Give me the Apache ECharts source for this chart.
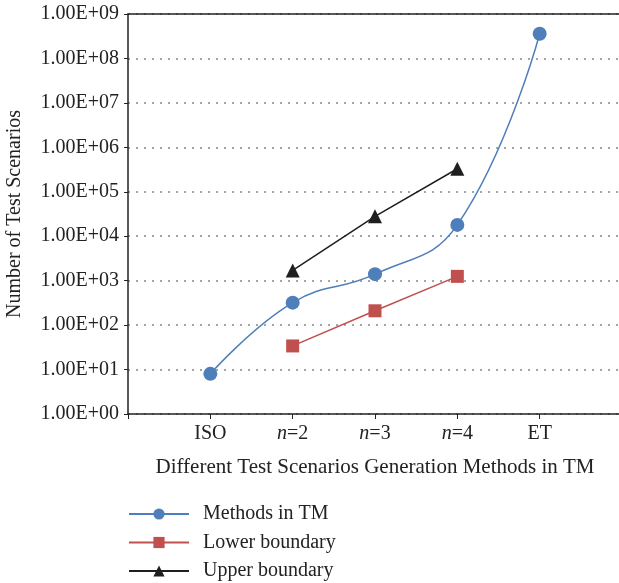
<!DOCTYPE html>
<html>
<head>
<meta charset="utf-8">
<script src="https://cdn.jsdelivr.net/npm/echarts@6/dist/echarts.min.js"></script>
<style>html,body{margin:0;padding:0;background:#fff;}#c{width:619px;height:583px;}</style>
</head>
<body>
<div id="c"></div>
<script>
var categories = ['', 'ISO', 'n=2', 'n=3', 'n=4', 'ET', ''];
var methodsTM = [null, 8, 320, 1400, 18000, 360000000, null];
var lowerBoundary = [null, null, 34, 210, 1250, null, null];
var upperBoundary = [null, null, 1700, 28000, 330000, null, null];
var yTicks = [1, 10, 100, 1000, 1e4, 1e5, 1e6, 1e7, 1e8, 1e9];

var FONT = '"Liberation Serif", "DejaVu Serif", serif';
var chart = echarts.init(document.getElementById('c'), null, {renderer: 'canvas'});
function fmtY(v) {
  var e = Math.round(Math.log10(v));
  return '1.00E+' + (e < 10 ? '0' + e : e);
}
function fmtX(v) {
  var m = /^n=(\d+)$/.exec(v);
  if (m) return '{i|n}{r|=' + m[1] + '}';
  return '{r|' + v + '}';
}
chart.setOption({
  animation: false,
  backgroundColor: '#fff',
  textStyle: {fontFamily: FONT},
  grid: {left: 128, top: 14, right: -3, bottom: 169, containLabel: false, outerBoundsMode: 'none'},
  legend: {
    orient: 'vertical', left: 128, top: 504, height: 90, padding: 0,
    itemWidth: 60, itemHeight: 14, itemGap: 8.5,
    textStyle: {fontFamily: FONT, fontSize: 20, color: '#222', padding: [0, 0, 0, 9]},
    data: ['Methods in TM', 'Lower boundary', 'Upper boundary']
  },
  xAxis: [{
    type: 'category', data: categories, boundaryGap: false,
    axisLine: {lineStyle: {color: '#222', width: 1.5}},
    axisTick: {show: true, length: 5, inside: false, lineStyle: {color: '#222'}},
    axisLabel: {margin: 10, formatter: fmtX, rich: {
      i: {fontFamily: FONT, fontSize: 20, fontStyle: 'italic', color: '#222'},
      r: {fontFamily: FONT, fontSize: 20, color: '#222'}
    }},
    splitLine: {show: false},
    name: 'Different Test Scenarios Generation Methods in TM',
    nameLocation: 'middle', nameGap: 43,
    nameTextStyle: {fontFamily: FONT, fontSize: 21, color: '#222'}
  }, {
    type: 'category', data: categories, boundaryGap: false, position: 'top',
    axisLine: {lineStyle: {color: '#222', width: 1.5}},
    axisTick: {show: false}, axisLabel: {show: false}, splitLine: {show: false}
  }],
  yAxis: {
    type: 'log', logBase: 10, min: 1, max: 1e9,
    axisLine: {show: true, lineStyle: {color: '#222', width: 1.5}},
    axisTick: {show: true, length: 4, lineStyle: {color: '#222'}},
    axisLabel: {margin: 9, formatter: fmtY, fontFamily: FONT, fontSize: 20, color: '#222'},
    splitLine: {show: true, lineStyle: {color: '#888', type: [2, 6], width: 1.5}},
    name: 'Number of Test Scenarios', nameLocation: 'middle', nameGap: 103,
    nameTextStyle: {fontFamily: FONT, fontSize: 20, color: '#222'}
  },
  series: [{
    name: 'Methods in TM', type: 'line', data: methodsTM, smooth: 0.45,
    symbol: 'circle', symbolSize: 14, connectNulls: false,
    itemStyle: {color: '#4F7FBA'}, lineStyle: {color: '#4F7FBA', width: 1.5}, z: 3
  }, {
    name: 'Lower boundary', type: 'line', data: lowerBoundary,
    symbol: 'rect', symbolSize: 13,
    itemStyle: {color: '#C0504D'}, lineStyle: {color: '#C0504D', width: 1.5}, z: 2
  }, {
    name: 'Upper boundary', type: 'line', data: upperBoundary,
    symbol: 'triangle', symbolSize: 14,
    itemStyle: {color: '#1f1f1f'}, lineStyle: {color: '#1f1f1f', width: 1.5}, z: 2
  }]
});
</script>
</body>
</html>
